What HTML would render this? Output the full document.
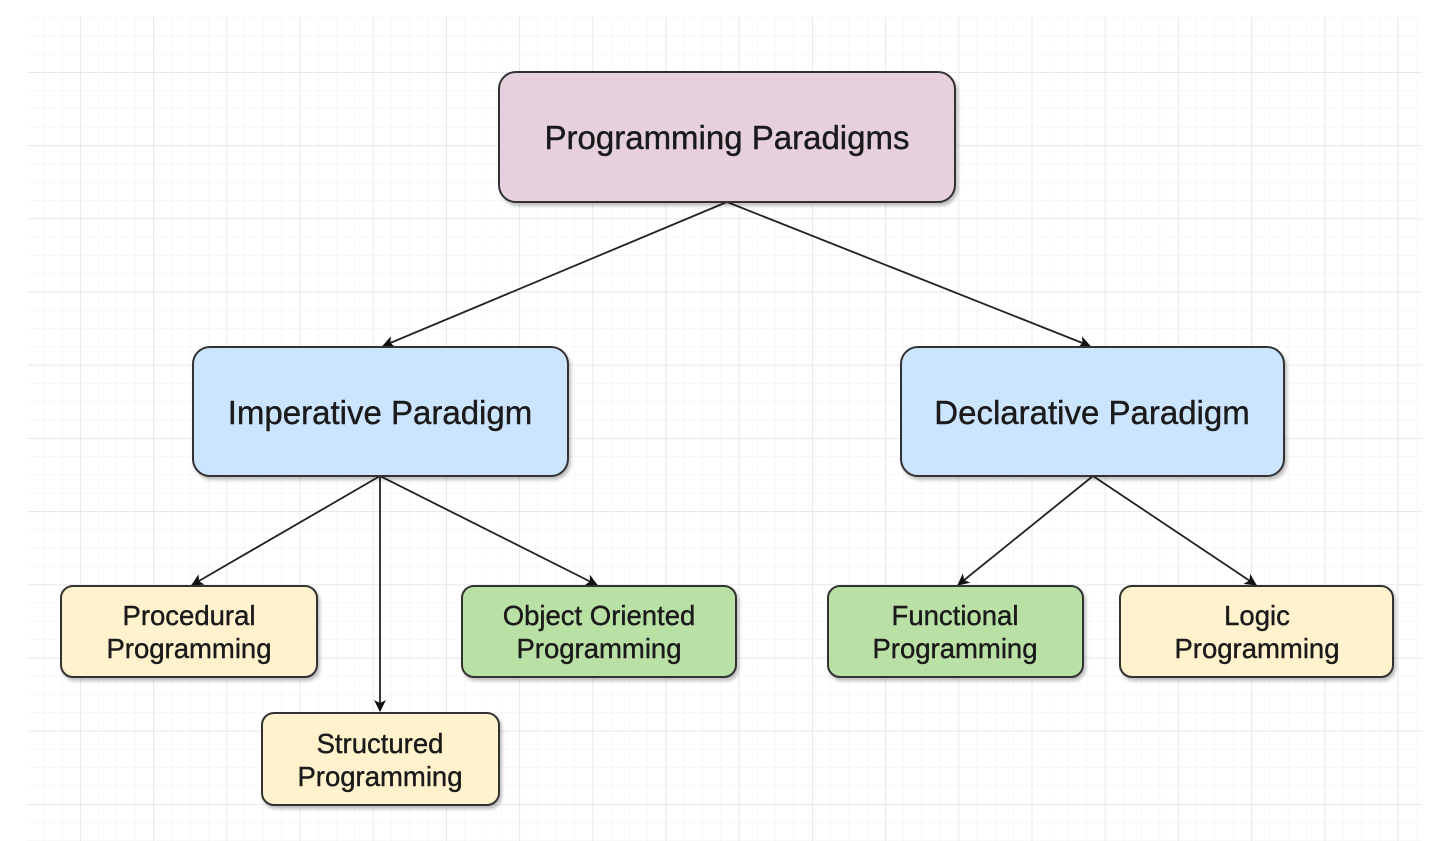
<!DOCTYPE html>
<html><head><meta charset="utf-8"><style>
html,body{margin:0;padding:0;background:#fff;}
svg{display:block;}
text{font-family:"Liberation Sans",Arial,sans-serif;fill:#1a1a1a;stroke:#1a1a1a;stroke-width:0.4;text-anchor:middle;}
</style></head><body>
<svg width="1441" height="841" viewBox="0 0 1441 841" xmlns="http://www.w3.org/2000/svg">
<defs>
<pattern id="minor" x="80" y="72" width="18.3" height="18.3" patternUnits="userSpaceOnUse">
<path d="M0 0H18.3M0 0V18.3" stroke="#f0f0f0" stroke-width="1" fill="none"/>
</pattern>
<pattern id="major" x="80" y="72" width="73.2" height="73.2" patternUnits="userSpaceOnUse">
<path d="M0 0H73.2M0 0V73.2" stroke="#e4e4e4" stroke-width="1.5" fill="none"/>
</pattern>
<marker id="ar" markerWidth="12" markerHeight="12" refX="11" refY="6" orient="auto" markerUnits="userSpaceOnUse">
<path d="M0 0L12 6L0 12L3 6Z" fill="#111"/>
</marker>
<filter id="sh" x="-10%" y="-10%" width="120%" height="130%">
<feDropShadow dx="2" dy="3" stdDeviation="1.5" flood-color="#000" flood-opacity="0.25"/>
</filter>
</defs>
<rect x="27" y="17" width="1395" height="824" fill="url(#minor)"/>
<rect x="27" y="17" width="1395" height="824" fill="url(#major)"/>

<g stroke="#222" stroke-width="1.8" fill="none" marker-end="url(#ar)">
<line x1="727" y1="202" x2="383" y2="346"/>
<line x1="727" y1="202" x2="1090" y2="346"/>
<line x1="380" y1="476" x2="192" y2="585"/>
<line x1="380" y1="476" x2="380" y2="711"/>
<line x1="380" y1="476" x2="597" y2="585"/>
<line x1="1093" y1="476" x2="958" y2="585"/>
<line x1="1093" y1="476" x2="1256" y2="585"/>
</g>

<g stroke="#333" stroke-width="2" filter="url(#sh)">
<rect x="499" y="72" width="456" height="130" rx="17" fill="#e6d0de"/>
<rect x="193" y="347" width="375" height="129" rx="17" fill="#cce5ff"/>
<rect x="901" y="347" width="383" height="129" rx="17" fill="#cce5ff"/>
<rect x="61" y="586" width="256" height="91" rx="12" fill="#fff2cc"/>
<rect x="462" y="586" width="274" height="91" rx="12" fill="#b9e0a5"/>
<rect x="828" y="586" width="255" height="91" rx="12" fill="#b9e0a5"/>
<rect x="1120" y="586" width="273" height="91" rx="12" fill="#fff2cc"/>
<rect x="262" y="713" width="237" height="92" rx="12" fill="#fff2cc"/>
</g>

<text x="727" y="149" font-size="33">Programming Paradigms</text>
<text x="380" y="424" font-size="33">Imperative Paradigm</text>
<text x="1092" y="424" font-size="33">Declarative Paradigm</text>
<g font-size="27.5">
<text x="189" y="625">Procedural</text><text x="189" y="658">Programming</text>
<text x="599" y="625">Object Oriented</text><text x="599" y="658">Programming</text>
<text x="955" y="625">Functional</text><text x="955" y="658">Programming</text>
<text x="1257" y="625">Logic</text><text x="1257" y="658">Programming</text>
<text x="380" y="753">Structured</text><text x="380" y="786">Programming</text>
</g>
</svg>
</body></html>
